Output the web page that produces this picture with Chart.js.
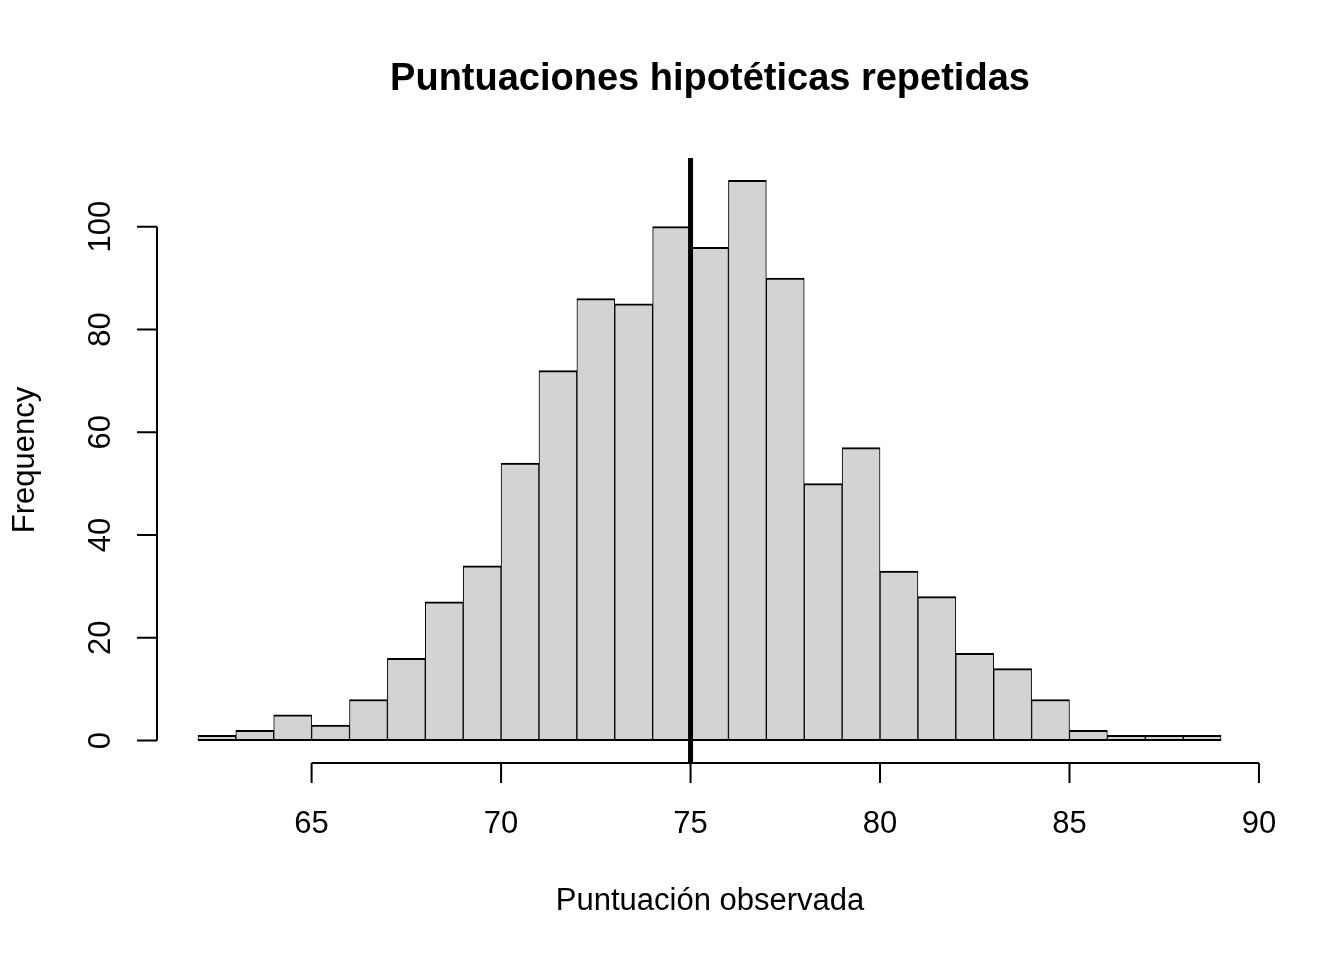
<!DOCTYPE html>
<html>
<head>
<meta charset="utf-8">
<script src="https://cdn.jsdelivr.net/npm/chart.js@4"></script>
<style>
  html, body { margin: 0; padding: 0; background: #fff; }
  canvas { display: block; }
</style>
</head>
<body>
<canvas id="hist" width="1344" height="960"></canvas>
<script>
// ---------- data ----------
const binLeft = [62, 63, 64, 65, 66, 67, 68, 69, 70, 71, 72, 73, 74, 75, 76, 77, 78, 79, 80, 81, 82, 83, 84, 85, 86, 87, 88];
const counts  = [1, 2, 5, 3, 8, 16, 27, 34, 54, 72, 86, 85, 100, 96, 109, 90, 50, 57, 33, 28, 17, 14, 8, 2, 1, 1, 1];
const xTicks = [65, 70, 75, 80, 85, 90];
const yTicks = [0, 20, 40, 60, 80, 100];
const refLine = 75;

const TITLE = 'Puntuaciones hipotéticas repetidas';
const XLAB = 'Puntuación observada';
const YLAB = 'Frequency';

const FONT = '"Liberation Sans", Arial, sans-serif';
const FILL = '#d3d3d3';
const INK = '#000';

// R pads the data range by 4% on each side
const X_MIN = 60.92, X_MAX = 90.08;
const Y_MIN = -4.36, Y_MAX = 113.36;

const bars = binLeft.map((l, i) => ({ x: l + 0.5, y: counts[i] }));

// ---------- R style axes + labels ----------
const rAxes = {
    id: 'rAxes',
    afterDraw(chart) {
        const { ctx, scales: { x, y }, chartArea } = chart;
        ctx.save();
        ctx.strokeStyle = INK;
        ctx.fillStyle = INK;
        ctx.lineWidth = 2;

        // x axis
        const axY = chartArea.bottom;
        ctx.beginPath();
        ctx.moveTo(x.getPixelForValue(xTicks[0]), axY);
        ctx.lineTo(x.getPixelForValue(xTicks[xTicks.length - 1]), axY);
        xTicks.forEach(v => {
            const px = x.getPixelForValue(v);
            ctx.moveTo(px, axY);
            ctx.lineTo(px, axY + 20);
        });
        ctx.stroke();
        ctx.font = '31px ' + FONT;
        ctx.textAlign = 'center';
        ctx.textBaseline = 'middle';
        xTicks.forEach(v => ctx.fillText(String(v), x.getPixelForValue(v), 824));

        // y axis
        const axX = chartArea.left;
        ctx.beginPath();
        ctx.moveTo(axX, y.getPixelForValue(yTicks[0]));
        ctx.lineTo(axX, y.getPixelForValue(yTicks[yTicks.length - 1]));
        yTicks.forEach(v => {
            const py = y.getPixelForValue(v);
            ctx.moveTo(axX, py);
            ctx.lineTo(axX - 20, py);
        });
        ctx.stroke();
        yTicks.forEach(v => {
            ctx.save();
            ctx.translate(101, y.getPixelForValue(v));
            ctx.rotate(-Math.PI / 2);
            ctx.fillText(String(v), 0, 0);
            ctx.restore();
        });

        // axis titles
        ctx.fillText(XLAB, 710, 901);
        ctx.save();
        ctx.translate(25, 460);
        ctx.rotate(-Math.PI / 2);
        ctx.fillText(YLAB, 0, 0);
        ctx.restore();

        // main title
        ctx.font = 'bold 38px ' + FONT;
        ctx.fillText(TITLE, 710, 80);
        ctx.restore();
    }
};

new Chart(document.getElementById('hist'), {
    type: 'bar',
    data: {
        datasets: [
            {
                type: 'line',
                data: [{ x: refLine, y: Y_MIN }, { x: refLine, y: Y_MAX }],
                borderColor: INK,
                borderWidth: 5,
                pointRadius: 0,
                order: 0,
            },
            {
                type: 'bar',
                data: bars,
                backgroundColor: FILL,
                borderColor: INK,
                borderWidth: { top: 2, bottom: 2, left: 1, right: 1 },
                borderSkipped: false,
                barPercentage: 1,
                categoryPercentage: 1,
                grouped: false,
                order: 1,
            }
        ]
    },
    options: {
        responsive: false,
        animation: false,
        devicePixelRatio: 1,
        layout: { padding: { left: 157, right: 82, top: 158, bottom: 197 } },
        plugins: { legend: { display: false }, tooltip: { enabled: false }, title: { display: false } },
        scales: {
            x: { type: 'linear', min: X_MIN, max: X_MAX, offset: false, display: false },
            y: { type: 'linear', min: Y_MIN, max: Y_MAX, display: false }
        }
    },
    plugins: [rAxes]
});
</script>
</body>
</html>
